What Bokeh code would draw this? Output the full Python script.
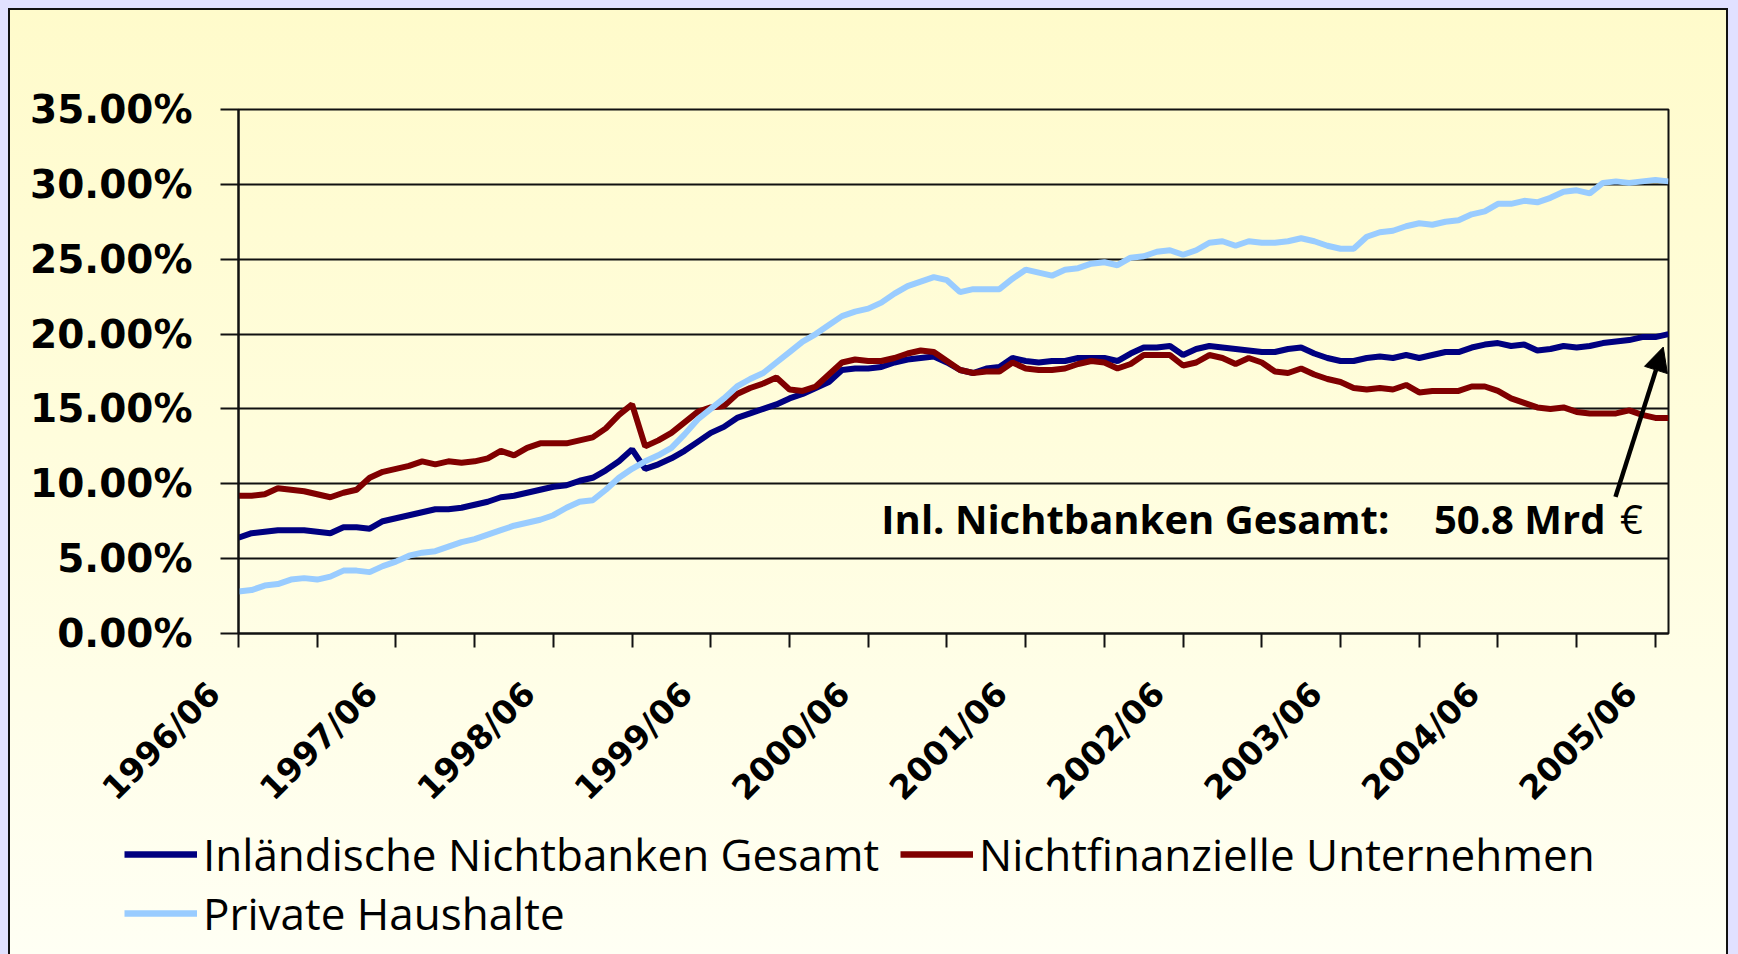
from bokeh.plotting import figure
from bokeh.layouts import column
from bokeh.models import (ColumnDataSource, FixedTicker, PrintfTickFormatter, Range1d,
                          Legend, LegendItem, Label, Arrow, NormalHead)
from bokeh.embed import file_html
from bokeh.resources import INLINE
import math

# ---- data (monthly, 1996/06 .. 2005/07), shares in percent ----
tick_labels = ["1996/06", "1997/06", "1998/06", "1999/06", "2000/06",
               "2001/06", "2002/06", "2003/06", "2004/06", "2005/06"]

series_names = ["Inländische Nichtbanken Gesamt", "Nichtfinanzielle Unternehmen",
                "Private Haushalte"]
series_colors = ["#000080", "#800000", "#99CCFF"]

gesamt = [6.4, 6.7, 6.8, 6.9, 6.9, 6.9, 6.8, 6.7, 7.1, 7.1,
          7.0, 7.5, 7.7, 7.9, 8.1, 8.3, 8.3, 8.4, 8.6, 8.8,
          9.1, 9.2, 9.4, 9.6, 9.8, 9.9, 10.2, 10.4, 10.9, 11.5,
          12.3, 11.0, 11.3, 11.7, 12.2, 12.8, 13.4, 13.8, 14.4, 14.7,
          15.0, 15.3, 15.7, 16.0, 16.4, 16.8, 17.6, 17.7, 17.7, 17.8,
          18.1, 18.3, 18.4, 18.5, 18.1, 17.6, 17.4, 17.7, 17.8, 18.4,
          18.2, 18.1, 18.2, 18.2, 18.4, 18.4, 18.4, 18.2, 18.7, 19.1,
          19.1, 19.2, 18.6, 19.0, 19.2, 19.1, 19.0, 18.9, 18.8, 18.8,
          19.0, 19.1, 18.7, 18.4, 18.2, 18.2, 18.4, 18.5, 18.4, 18.6,
          18.4, 18.6, 18.8, 18.8, 19.1, 19.3, 19.4, 19.2, 19.3, 18.9,
          19.0, 19.2, 19.1, 19.2, 19.4, 19.5, 19.6, 19.8, 19.8, 20.0]

unternehmen = [9.2, 9.2, 9.3, 9.7, 9.6, 9.5, 9.3, 9.1, 9.4, 9.6,
               10.4, 10.8, 11.0, 11.2, 11.5, 11.3, 11.5, 11.4, 11.5, 11.7,
               12.2, 11.9, 12.4, 12.7, 12.7, 12.7, 12.9, 13.1, 13.7, 14.6,
               15.3, 12.5, 12.9, 13.4, 14.1, 14.8, 15.1, 15.2, 16.0, 16.4,
               16.7, 17.1, 16.3, 16.2, 16.5, 17.3, 18.1, 18.3, 18.2, 18.2,
               18.4, 18.7, 18.9, 18.8, 18.2, 17.6, 17.4, 17.5, 17.5, 18.1,
               17.7, 17.6, 17.6, 17.7, 18.0, 18.2, 18.1, 17.7, 18.0, 18.6,
               18.6, 18.6, 17.9, 18.1, 18.6, 18.4, 18.0, 18.4, 18.1, 17.5,
               17.4, 17.7, 17.3, 17.0, 16.8, 16.4, 16.3, 16.4, 16.3, 16.6,
               16.1, 16.2, 16.2, 16.2, 16.5, 16.5, 16.2, 15.7, 15.4, 15.1,
               15.0, 15.1, 14.8, 14.7, 14.7, 14.7, 14.9, 14.6, 14.4, 14.4]

haushalte = [2.8, 2.9, 3.2, 3.3, 3.6, 3.7, 3.6, 3.8, 4.2, 4.2,
             4.1, 4.5, 4.8, 5.2, 5.4, 5.5, 5.8, 6.1, 6.3, 6.6,
             6.9, 7.2, 7.4, 7.6, 7.9, 8.4, 8.8, 8.9, 9.6, 10.4,
             11.0, 11.5, 11.9, 12.4, 13.3, 14.3, 15.0, 15.7, 16.5, 17.0,
             17.4, 18.1, 18.8, 19.5, 20.0, 20.6, 21.2, 21.5, 21.7, 22.1,
             22.7, 23.2, 23.5, 23.8, 23.6, 22.8, 23.0, 23.0, 23.0, 23.7,
             24.3, 24.1, 23.9, 24.3, 24.4, 24.7, 24.8, 24.6, 25.1, 25.2,
             25.5, 25.6, 25.3, 25.6, 26.1, 26.2, 25.9, 26.2, 26.1, 26.1,
             26.2, 26.4, 26.2, 25.9, 25.7, 25.7, 26.5, 26.8, 26.9, 27.2,
             27.4, 27.3, 27.5, 27.6, 28.0, 28.2, 28.7, 28.7, 28.9, 28.8,
             29.1, 29.5, 29.6, 29.4, 30.1, 30.2, 30.1, 30.2, 30.3, 30.2]

y_ticks = [0, 5, 10, 15, 20, 25, 30, 35]

n = len(gesamt)
src = ColumnDataSource(dict(x=list(range(n)), g=gesamt, u=unternehmen, h=haushalte))
cols = ["g", "u", "h"]

# ---------------- main chart ----------------
p = figure(width=1716, height=814, output_backend="svg", toolbar_location=None,
           x_range=Range1d(0, n - 1), y_range=Range1d(0, 35),
           min_border_left=228, min_border_right=58, min_border_top=99,
           min_border_bottom=190)
p.frame_align = False
p.background_fill_alpha = 0
p.border_fill_alpha = 0
p.outline_line_color = "#111111"
p.outline_line_width = 2

major = list(range(0, n, 12))
minor = list(range(6, n, 12))
p.xaxis.ticker = FixedTicker(ticks=major, minor_ticks=minor)
p.xaxis.major_label_overrides = {m: lab + "\u00a0\u00a0\u00a0" for m, lab in zip(major, tick_labels)}
p.xaxis.major_label_orientation = math.pi / 4
p.xaxis.major_label_text_font = "DejaVu Sans"
p.xaxis.major_label_text_font_style = "bold"
p.xaxis.major_label_text_font_size = "33px"
p.xaxis.major_label_text_color = "black"
p.xaxis.major_tick_out = 14
p.xaxis.major_tick_in = 0
p.xaxis.minor_tick_out = 14
p.xaxis.minor_tick_in = 0
p.xaxis.major_tick_line_width = 2
p.xaxis.minor_tick_line_width = 2
p.xaxis.major_tick_line_color = "#111111"
p.xaxis.minor_tick_line_color = "#111111"
p.xaxis.axis_line_width = 2
p.xaxis.axis_line_color = "#111111"
p.xaxis.major_label_standoff = 16

p.yaxis.ticker = FixedTicker(ticks=y_ticks)
p.yaxis.formatter = PrintfTickFormatter(format="%.2f%%")
p.yaxis.major_label_text_font = "DejaVu Sans"
p.yaxis.major_label_text_font_style = "bold"
p.yaxis.major_label_text_font_size = "39px"
p.yaxis.major_label_text_color = "black"
p.yaxis.major_tick_out = 18
p.yaxis.major_tick_in = 0
p.yaxis.minor_tick_line_color = None
p.yaxis.major_tick_line_width = 2
p.yaxis.major_tick_line_color = "#111111"
p.yaxis.axis_line_width = 2
p.yaxis.axis_line_color = "#111111"
p.yaxis.major_label_standoff = 28

p.xgrid.visible = False
p.ygrid.ticker = FixedTicker(ticks=y_ticks)
p.ygrid.grid_line_color = "#111111"
p.ygrid.grid_line_width = 2

for c, col in zip(cols, series_colors):
    p.line("x", c, source=src, line_color=col, line_width=6)

p.add_layout(Label(x=49.0, y=7.7, text="Inl. Nichtbanken Gesamt:", text_font="Open Sans",
                   text_font_style="bold", text_font_size="40px", text_color="black",
                   text_align="left", text_baseline="alphabetic"))
p.add_layout(Label(x=104.2, y=7.7, text="50.8 Mrd", text_font="Open Sans",
                   text_font_style="bold", text_font_size="40px", text_color="black",
                   text_align="right", text_baseline="alphabetic"))
p.add_layout(Label(x=105.3, y=7.7, text="€", text_font="Open Sans",
                   text_font_style="normal", text_font_size="40px", text_color="black",
                   text_align="left", text_baseline="alphabetic"))
p.add_layout(Arrow(end=NormalHead(size=24, fill_color="black", line_color="black"),
                   x_start=104.96, y_start=9.13, x_end=108.6, y_end=19.13,
                   line_width=4.5, line_color="black"))

# ---------------- legend strip ----------------
lg = figure(width=1716, height=130, output_backend="svg", toolbar_location=None,
            x_range=Range1d(0, n - 1), y_range=Range1d(-10, -9),
            x_axis_type=None, y_axis_type=None,
            min_border_left=0, min_border_right=0, min_border_top=0, min_border_bottom=0)
lg.frame_align = False
lg.background_fill_alpha = 0
lg.border_fill_alpha = 0
lg.outline_line_color = None
lg.grid.visible = False

legend_locs = [(114, 70), (890, 70), (114, 11)]
for name, c, col, loc in zip(series_names, cols, series_colors, legend_locs):
    r = lg.line("x", c, source=src, line_color=col, line_width=6.5)
    lg.add_layout(Legend(items=[LegendItem(label=name, renderers=[r])], location=loc,
                         orientation="horizontal", padding=0, margin=0, spacing=0,
                         border_line_color=None, background_fill_alpha=0,
                         glyph_width=73, glyph_height=56, label_height=56,
                         label_standoff=6, label_text_font="Open Sans",
                         label_text_font_size="44px", label_text_color="black"),
                  "center")

layout = column(p, lg, spacing=0, styles={
    "background": "linear-gradient(to bottom, #FFFBCB 0%, #FFFDDC 45%, #FFFFF4 100%)",
    "border-left": "2px solid #111",
    "border-top": "2px solid #111",
    "border-right": "2px solid #111",
})

html = file_html(layout, INLINE)
html = html.replace("</head>",
                    "<style>html{background:#E1E1FF;} body{background:#E1E1FF;margin:8px 8px 0 8px;}</style></head>", 1)
open("out.html", "w", encoding="utf-8").write(html)
